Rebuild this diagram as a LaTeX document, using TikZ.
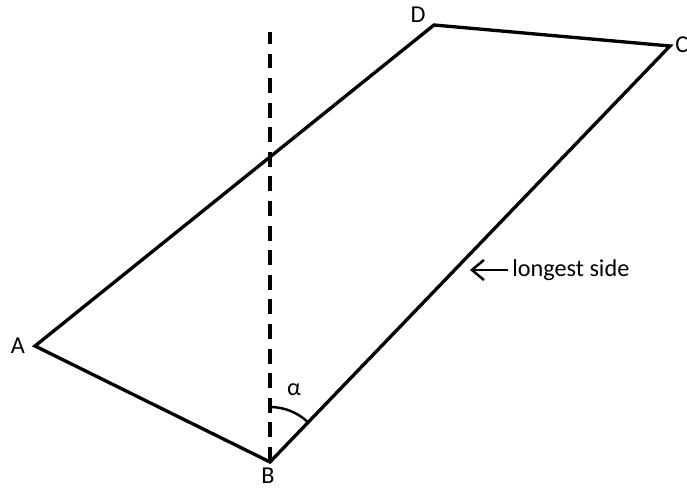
\documentclass[tikz,border=0pt]{standalone}
\usepackage{fontspec}
\setmainfont{Carlito}
\usetikzlibrary{arrows.meta, positioning}

\begin{document}
\begin{tikzpicture}[
    x=0.02cm, y=-0.02cm,
    >={Straight Barb[length=2.4mm, width=4mm, line width=1.4pt]},
    every node/.style={font=\fontsize{13.8}{16}\selectfont, inner sep=0pt},
    side/.style={line width=1.9pt, line join=miter},
]
\useasboundingbox (0,0) rectangle (687,489);
% corners of the parallelogram
\coordinate (A) at (35,346);
\coordinate (B) at (270,462);
\coordinate (C) at (670,46);
\coordinate (D) at (434,25);
\coordinate (top) at (270,32);
\draw[side] (A) -- (B) -- (C) -- (D) -- cycle;
% vertical through B
\draw[side, dash pattern=on 8.5pt off 5.5pt] (B) -- (top);
% angle between the vertical and BC (y axis points down)
\draw[line width=1.4pt] (270,407) arc[start angle=-90, end angle=-46, radius=55];
\node (alpha) at (294,390) {α};
% labels
\node (la) at (18,346) {A};
\node (lb) at (268,476) {B};
\node (ld) at (418,15) {D};
\node[anchor=west] (lc) at (675,45) {C};
% pointer to BC
\node[anchor=west] (longest) at (512,270) {longest side};
\coordinate (tip) at (470,270);
\draw[->, line width=1.4pt] ([xshift=-4*0.02cm]longest.west) -- (tip);
\end{tikzpicture}
\end{document}
